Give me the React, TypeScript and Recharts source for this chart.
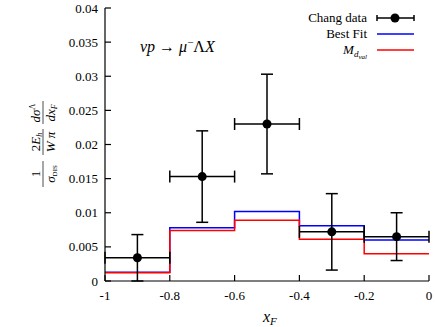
import { ComposedChart, Line, Scatter, ErrorBar, XAxis, YAxis, Customized } from 'recharts';

// histogram bin edges and bin heights
const binEdges = [-1, -0.8, -0.6, -0.4, -0.2, 0];
const bestFit = [0.0013, 0.0078, 0.0102, 0.0081, 0.006];
const mDval = [0.0012, 0.0074, 0.0089, 0.0061, 0.004];

// Chang data points
const changX = [-0.9, -0.7, -0.5, -0.3, -0.1];
const changY = [0.0034, 0.0153, 0.023, 0.0072, 0.0065];
const changYErr = [0.0034, 0.0067, 0.0073, 0.0056, 0.0035];
const changXErr = [0.1, 0.1, 0.1, 0.1, 0.1];

const xTicks = [-1, -0.8, -0.6, -0.4, -0.2, 0];
const yTicks = [0, 0.005, 0.01, 0.015, 0.02, 0.025, 0.03, 0.035, 0.04];

const histData = binEdges.map((x, i) => ({
  x,
  best: bestFit[Math.min(i, bestFit.length - 1)],
  mdval: mDval[Math.min(i, mDval.length - 1)],
}));

const changData = changX.map((x, i) => ({ x, y: changY[i], ey: changYErr[i], ex: changXErr[i] }));

const FONT = '"Liberation Serif", "DejaVu Serif", serif';

const fmtY = (v: number) => String(+v.toFixed(3));
const fmtX = (v: number) => String(+v.toFixed(1));

function Decorations() {
  return (
    <g fontFamily={FONT} fill="#000">
      {/* process label */}
      <text x={140} y={52} fontSize={16}>
        <tspan fontStyle="italic">νp</tspan> → <tspan fontStyle="italic">μ</tspan>
        <tspan dy={-6} fontSize={11}>−</tspan>
        <tspan dy={6}>Λ</tspan>
        <tspan fontStyle="italic">X</tspan>
      </text>

      {/* legend */}
      <text x={367} y={22} fontSize={13} textAnchor="end">Chang data</text>
      <line x1={377} x2={414} y1={18} y2={18} stroke="#000" strokeWidth={1.5} />
      <line x1={377} x2={377} y1={15} y2={21} stroke="#000" strokeWidth={1.5} />
      <line x1={414} x2={414} y1={15} y2={21} stroke="#000" strokeWidth={1.5} />
      <circle cx={395} cy={18} r={4.5} fill="#000" />

      <text x={367} y={38} fontSize={13} textAnchor="end">Best Fit</text>
      <line x1={377} x2={414} y1={34} y2={34} stroke="#0000ff" strokeWidth={1.5} />

      <text x={367} y={54} fontSize={13} textAnchor="end" fontStyle="italic">
        M<tspan dy={3} fontSize={9}>d</tspan>
        <tspan dy={2} fontSize={7}>val</tspan>
      </text>
      <line x1={377} x2={414} y1={50} y2={50} stroke="#ff0000" strokeWidth={1.5} />

      {/* y axis label */}
      <g transform="translate(43,144) rotate(-90)" fontSize={13}>
        <text x={-30} y={-3} textAnchor="middle">1</text>
        <line x1={-43} x2={-17} y1={0} y2={0} stroke="#000" strokeWidth={0.7} />
        <text x={-30} y={12} textAnchor="middle" fontStyle="italic">
          σ<tspan fontSize={7} dy={2} fontStyle="normal">DIS</tspan>
        </text>

        <text x={2} y={-3} textAnchor="middle">
          2<tspan fontStyle="italic">E</tspan>
          <tspan fontSize={8} dy={2} fontStyle="italic">h</tspan>
        </text>
        <line x1={-11} x2={15} y1={0} y2={0} stroke="#000" strokeWidth={0.7} />
        <text x={2} y={12} textAnchor="middle" fontStyle="italic">W π</text>

        <text x={31} y={-3} textAnchor="middle" fontStyle="italic">
          dσ<tspan fontSize={8} dy={-5} fontStyle="normal">Λ</tspan>
        </text>
        <line x1={20} x2={43} y1={0} y2={0} stroke="#000" strokeWidth={0.7} />
        <text x={31} y={12} textAnchor="middle" fontStyle="italic">
          dx<tspan fontSize={8} dy={2}>F</tspan>
        </text>
      </g>

      {/* x axis label */}
      <text x={263} y={322} fontSize={16} fontStyle="italic">
        x<tspan fontSize={11} dy={3}>F</tspan>
      </text>
    </g>
  );
}

export default function App() {
  const tickStyle = { fontSize: 13, fill: '#000', fontFamily: FONT };
  return (
    <div style={{ position: 'absolute', left: 0, top: 0, background: '#fff' }}>
      <ComposedChart width={436} height={327} data={histData} margin={{ top: 8, right: 7, bottom: 0, left: 0 }}>
        <XAxis
          xAxisId="b"
          dataKey="x"
          type="number"
          domain={[-1, 0]}
          ticks={xTicks}
          tickFormatter={fmtX}
          height={46}
          tickSize={-6}
          tickMargin={16}
          tick={tickStyle}
          stroke="#000"
          axisLine={{ stroke: '#000', strokeWidth: 1.2 }}
          tickLine={{ stroke: '#000', strokeWidth: 1.2 }}
          allowDataOverflow
        />
        <XAxis
          xAxisId="t"
          orientation="top"
          dataKey="x"
          type="number"
          domain={[-1, 0]}
          ticks={xTicks}
          height={0}
          tickSize={-6}
          tick={false}
          axisLine={{ stroke: '#000', strokeWidth: 1.2 }}
          tickLine={{ stroke: '#000', strokeWidth: 1.2 }}
        />
        <YAxis
          yAxisId="l"
          type="number"
          domain={[0, 0.04]}
          ticks={yTicks}
          tickFormatter={fmtY}
          width={105}
          tickSize={-6}
          tickMargin={13}
          tick={tickStyle}
          axisLine={{ stroke: '#000', strokeWidth: 1.2 }}
          tickLine={{ stroke: '#000', strokeWidth: 1.2 }}
          allowDataOverflow
        />
        <YAxis
          yAxisId="r"
          orientation="right"
          type="number"
          domain={[0, 0.04]}
          ticks={yTicks}
          width={0}
          tickSize={-6}
          tick={false}
          axisLine={{ stroke: '#000', strokeWidth: 1.2 }}
          tickLine={{ stroke: '#000', strokeWidth: 1.2 }}
        />
        <Line
          xAxisId="b"
          yAxisId="l"
          type="stepAfter"
          dataKey="best"
          stroke="#0000ff"
          strokeWidth={1.5}
          dot={false}
          isAnimationActive={false}
        />
        <Line
          xAxisId="b"
          yAxisId="l"
          type="stepAfter"
          dataKey="mdval"
          stroke="#ff0000"
          strokeWidth={1.5}
          dot={false}
          isAnimationActive={false}
        />
        <Scatter
          xAxisId="b"
          yAxisId="l"
          data={changData}
          dataKey="y"
          isAnimationActive={false}
          shape={(p: any) => <circle cx={p.cx} cy={p.cy} r={4.5} fill="#000" />}
        >
          <ErrorBar dataKey="ey" direction="y" width={6} stroke="#000" strokeWidth={1.5} isAnimationActive={false} />
          <ErrorBar dataKey="ex" direction="x" width={6} stroke="#000" strokeWidth={1.5} isAnimationActive={false} />
        </Scatter>
        <Customized component={Decorations} />
      </ComposedChart>
    </div>
  );
}
